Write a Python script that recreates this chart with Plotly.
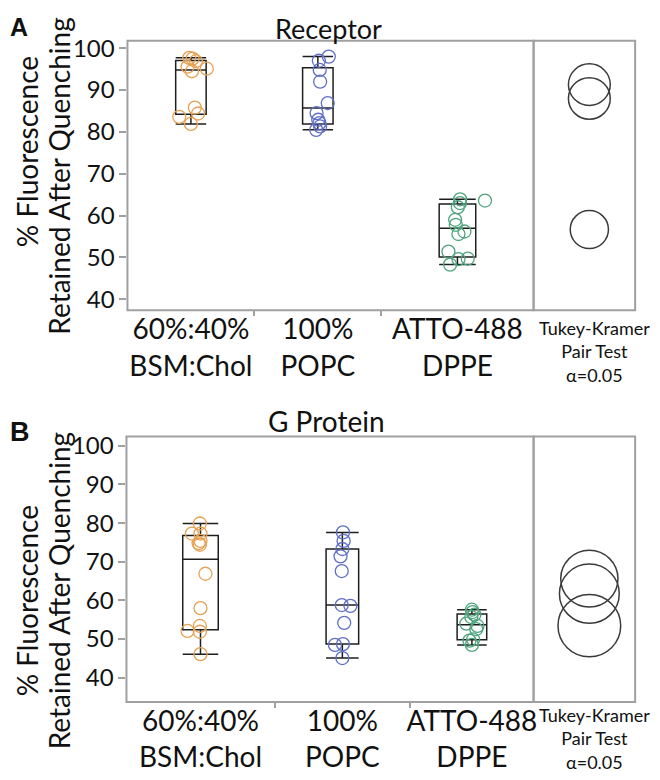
import numpy as np
import plotly.graph_objects as go

# ---------------- data ----------------
categories = ["60%:40%<br>BSM:Chol", "100%<br>POPC", "ATTO-488<br>DPPE"]

# Panel A: Receptor
rec_bsm = [81.9, 83.6, 84.4, 85.8, 94.5, 95.1, 95.6, 96.9, 97.5, 97.7]
rec_popc = [80.5, 81.3, 82.1, 82.9, 84.5, 86.9, 92.0, 94.8, 97.0, 98.0]
rec_dppe = [48.3, 49.6, 49.7, 51.4, 55.6, 56.2, 57.8, 59.0, 62.0, 63.0, 63.6, 63.9]
# horizontal jitter of each point (in sample-count units of the proportional x axis)
rec_bsm_jit = [0.0, -0.92, 0.57, 0.31, 0.08, 1.25, -0.26, 0.39, 0.13, -0.13]
rec_popc_jit = [-0.13, 0.18, 0.13, 0.03, -0.10, 0.78, 0.18, 0.15, 0.08, 0.86]
rec_dppe_jit = [-0.58, 0.08, 0.81, -0.71, 0.08, 0.55, -0.13, -0.18, 0.03, 0.20, 2.17, 0.21]

# Panel B: G Protein
gp_bsm = [46.1, 51.9, 52.1, 53.4, 58.0, 66.9, 74.4, 74.8, 75.4, 77.3, 77.3, 79.9]
gp_popc = [45.1, 48.5, 48.7, 54.2, 58.6, 58.8, 67.6, 71.4, 73.3, 75.4, 77.6]
gp_dppe = [48.5, 49.6, 49.9, 52.6, 53.4, 54.0, 55.7, 56.3, 57.0, 57.6]
gp_bsm_jit = [0.0, -0.05, -1.05, -0.05, 0.0, 0.4, -0.05, -0.15, 0.0, -0.7, 0.0, -0.05]
gp_popc_jit = [0.0, -0.6, 0.05, 0.15, 0.65, -0.05, -0.05, -0.15, 0.0, 0.1, 0.05]
gp_dppe_jit = [0.0, -0.2, 0.1, 0.35, 0.45, -0.45, -0.05, 0.2, 0.05, 0.0]

y_ticks = [40, 50, 60, 70, 80, 90, 100]
TUKEY_Q = 3.49  # studentized range critical value, k=3, alpha=0.05, df~30

colors = ["#E6A153", "#5F6FC6", "#4FA47E"]
FONT = "Lato"
FRAME = "#a0a0a0"

W, H = 660, 780
OFF = 8  # page body margin of the html page


def px(x):
    return (x - OFF) / W


def py(y):
    return 1 - (y - OFF) / H


# panel geometry (page pixels)
A_TOP, A_BOT, B_TOP, B_BOT = 33, 306, 434, 703
A_RNG, B_RNG = [37.4, 101.8], [33.7, 102.4]
MAIN_A, MAIN_B, COMP = (128, 536), (127, 536), (536, 638)
CIRCLE_X = 592

fig = go.Figure()


def quantiles(v):
    a = np.asarray(v, float)
    q1, med, q3 = np.percentile(a, [25, 50, 75], method="weibull")
    iqr = q3 - q1
    lo = a[a >= q1 - 1.5 * iqr].min()
    hi = a[a <= q3 + 1.5 * iqr].max()
    return q1, med, q3, lo, hi


def panel(groups, jits, xa, ya, xc):
    ns = [len(g) for g in groups]
    bounds = np.concatenate([[0], np.cumsum(ns)])
    centers = (bounds[:-1] + bounds[1:]) / 2
    for g, j, c, col, n in zip(groups, jits, centers, colors, ns):
        q1, med, q3, lo, hi = quantiles(g)
        fig.add_trace(go.Box(
            x=[c], q1=[q1], median=[med], q3=[q3], lowerfence=[lo], upperfence=[hi],
            width=0.24 * n, whiskerwidth=1, boxpoints=False,
            line=dict(color="#1e1e1e", width=1.5), fillcolor="rgba(0,0,0,0)",
            xaxis=xa, yaxis=ya, showlegend=False, hoverinfo="skip"))
        fig.add_trace(go.Scatter(
            x=[c + d for d in j], y=g, mode="markers",
            marker=dict(symbol="circle-open", size=13, color=col, line=dict(width=1.3)),
            xaxis=xa, yaxis=ya, showlegend=False))
    # Tukey-Kramer comparison circles
    allv = [np.asarray(g, float) for g in groups]
    sse = sum(((a - a.mean()) ** 2).sum() for a in allv)
    mse = sse / (sum(ns) - len(ns))
    for a, n in zip(allv, ns):
        r = TUKEY_Q / np.sqrt(2) * np.sqrt(mse / n)
        m = a.mean()
        fig.add_shape(type="circle", xref=xc, yref=ya,
                      x0=-r, x1=r, y0=m - r, y1=m + r,
                      line=dict(color="#3a3a3a", width=1.5))
    return bounds, centers


bA, cA = panel([rec_bsm, rec_popc, rec_dppe], [rec_bsm_jit, rec_popc_jit, rec_dppe_jit], "x", "y", "x2")
bB, cB = panel([gp_bsm, gp_popc, gp_dppe], [gp_bsm_jit, gp_popc_jit, gp_dppe_jit], "x3", "y2", "x4")

tickfont = dict(family=FONT, size=24, color="#111")
catfont = dict(family=FONT, size=28, color="#111")


def main_x(dom, bounds, centers, anchor):
    return dict(domain=[px(dom[0]), px(dom[1])], anchor=anchor, range=[0, bounds[-1]],
                tickmode="array", tickvals=list(centers), ticktext=categories, tickfont=catfont,
                ticks="", showgrid=False, zeroline=False, showline=False,
                minor=dict(tickmode="array", tickvals=list(bounds[1:-1]), ticks="outside",
                           ticklen=5, tickcolor=FRAME, tickwidth=1.5),
                fixedrange=True)


def main_y(top, bot, rng, anchor):
    return dict(domain=[py(bot), py(top)], anchor=anchor, range=rng, tickmode="array",
                tickvals=y_ticks, tickfont=tickfont, ticks="outside", ticklen=7,
                tickcolor=FRAME, tickwidth=1.5, showgrid=False, zeroline=False,
                showline=False, fixedrange=True)


def comp_x(top, bot, rng, anchor):
    # equal pixel scale to the y axis so the comparison circles are round
    upp = (rng[1] - rng[0]) / (bot - top)  # y units per pixel
    return dict(domain=[px(COMP[0]), px(COMP[1])], anchor=anchor,
                range=[-(CIRCLE_X - COMP[0]) * upp, (COMP[1] - CIRCLE_X) * upp],
                showticklabels=False, ticks="", showgrid=False, zeroline=False,
                showline=False, fixedrange=True)


fig.update_layout(
    width=W, height=H, margin=dict(l=0, r=0, t=0, b=0),
    paper_bgcolor="white", plot_bgcolor="white", boxmode="overlay",
    font=dict(family=FONT, color="#111"),
    xaxis=main_x(MAIN_A, bA, cA, "y"),
    yaxis=main_y(A_TOP, A_BOT, A_RNG, "x"),
    xaxis2=comp_x(A_TOP, A_BOT, A_RNG, "y"),
    xaxis3=main_x(MAIN_B, bB, cB, "y2"),
    yaxis2=main_y(B_TOP, B_BOT, B_RNG, "x3"),
    xaxis4=comp_x(B_TOP, B_BOT, B_RNG, "y2"),
)

# frames
for xr, yr in [("x", "y"), ("x2", "y"), ("x3", "y2"), ("x4", "y2")]:
    fig.add_shape(type="rect", xref=xr + " domain", yref=yr + " domain", x0=0, x1=1, y0=0, y1=1,
                  line=dict(color=FRAME, width=2), layer="above")

ann = []


def text(x, y, s, size, **kw):
    ann.append(dict(x=px(x), y=py(y), xref="paper", yref="paper", text=s, showarrow=False,
                    font=dict(family=kw.pop("family", FONT), size=size, color="#111"),
                    xanchor=kw.pop("xanchor", "center"), yanchor=kw.pop("yanchor", "middle"), **kw))


text(330, 21, "Receptor", 27)
text(328, 418, "G Protein", 28)
text(8, 19, "<b>A</b>", 25, family="Arial", xanchor="left")
text(8, 429, "<b>B</b>", 27, family="Arial", xanchor="left")
text(27, 145, "% Fluorescence", 28, textangle=-90)
text(59, 170, "Retained After Quenching", 28, textangle=-90)
text(27, 600, "% Fluorescence", 28, textangle=-90)
text(59, 590, "Retained After Quenching", 28, textangle=-90)
text(597, 348, "Tukey-Kramer<br>Pair Test<br>α=0.05", 18)
text(597, 740, "Tukey-Kramer<br>Pair Test<br>α=0.05", 18)
fig.update_layout(annotations=ann)

fig.write_html("out.html")
